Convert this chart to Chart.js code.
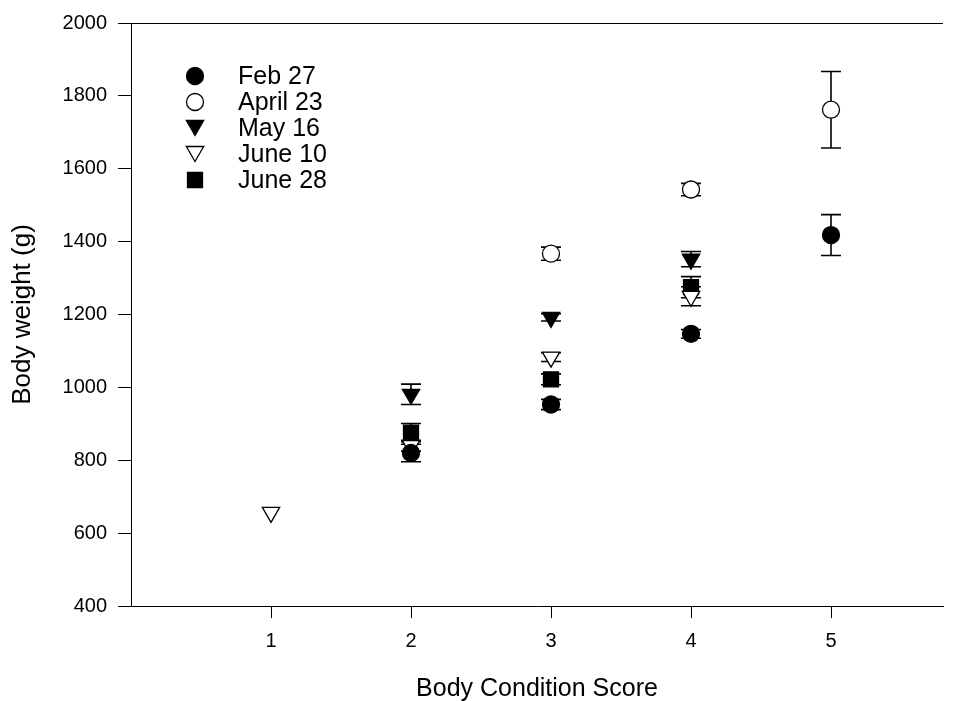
<!DOCTYPE html>
<html><head><meta charset="utf-8">
<script src="https://cdn.jsdelivr.net/npm/chart.js@4.4.1/dist/chart.umd.min.js"></script>
<style>html,body{margin:0;padding:0;background:#fff;}#wrap{width:957px;height:701px;}</style>
</head><body><div id="wrap"><canvas id="c" width="957" height="701"></canvas></div>
<script>
// ---- data ----
const categories = [1, 2, 3, 4, 5];
const seriesNames = ['Feb 27', 'April 23', 'May 16', 'June 10', 'June 28'];
const feb27    = [null, 820, 953, 1147, 1418];
const feb27Err = [null, 24, 14, 12, 56];
const apr23    = [null, null, 1367, 1543, 1762];
const apr23Err = [null, null, 18, 17, 105];
const may16    = [null, 981, 1192, 1352, null];
const may16Err = [null, 28, 10, 21, null];
const jun10    = [657, 840, 1083, 1250, null];
const jun10Err = [null, 15, 12, 26, null];
const jun28    = [null, 876, 1022, 1275, null];
const jun28Err = [null, 25, 15, 29, null];
const yTicks = [400, 600, 800, 1000, 1200, 1400, 1600, 1800, 2000];
const xTitle = 'Body Condition Score';
const yTitle = 'Body weight (g)';

const FONT = "'Liberation Sans', Arial, Helvetica, sans-serif";
const styles = [
  {pointStyle: 'circle', radius: 8.5, rotation: 0, fill: '#000'},
  {pointStyle: 'circle', radius: 8.5, rotation: 0, fill: '#fff'},
  {pointStyle: 'triangle', radius: 10, rotation: 180, fill: '#000'},
  {pointStyle: 'triangle', radius: 10, rotation: 180, fill: '#fff'},
  {pointStyle: 'rect', radius: 10.6, rotation: 0, fill: '#000'}
];
const values = [feb27, apr23, may16, jun10, jun28];
const errors = [feb27Err, apr23Err, may16Err, jun10Err, jun28Err];

function toPoints(vals, errs) {
  const out = [];
  categories.forEach((c, i) => {
    if (vals[i] !== null && vals[i] !== undefined) out.push({x: c, y: vals[i], err: errs[i] || 0});
  });
  return out;
}

const datasets = seriesNames.map((name, k) => ({
  label: name,
  data: toPoints(values[k], errors[k]),
  showLine: false,
  pointStyle: styles[k].pointStyle,
  pointRadius: styles[k].radius,
  pointHoverRadius: styles[k].radius,
  pointRotation: styles[k].rotation,
  backgroundColor: styles[k].fill,
  borderColor: '#000',
  borderWidth: 1.3
}));

const errorBars = {
  id: 'errorBars',
  beforeDatasetsDraw(chart) {
    const ctx = chart.ctx, xs = chart.scales.x, ys = chart.scales.y;
    ctx.save();
    ctx.strokeStyle = '#000';
    ctx.lineWidth = 1.6;
    chart.data.datasets.forEach(ds => {
      ds.data.forEach(p => {
        if (!p.err) return;
        const px = xs.getPixelForValue(p.x);
        const y1 = ys.getPixelForValue(p.y + p.err);
        const y2 = ys.getPixelForValue(p.y - p.err);
        ctx.beginPath();
        ctx.moveTo(px, y1); ctx.lineTo(px, y2);
        ctx.moveTo(px - 10, y1); ctx.lineTo(px + 10, y1);
        ctx.moveTo(px - 10, y2); ctx.lineTo(px + 10, y2);
        ctx.stroke();
      });
    });
    ctx.restore();
  }
};

function drawShape(ctx, st, x, y) {
  ctx.beginPath();
  const r = st.radius;
  if (st.pointStyle === 'circle') {
    ctx.arc(x, y, r, 0, Math.PI * 2);
  } else if (st.pointStyle === 'triangle') {
    ctx.moveTo(x, y + r);
    ctx.lineTo(x - r * Math.sqrt(3) / 2, y - r / 2);
    ctx.lineTo(x + r * Math.sqrt(3) / 2, y - r / 2);
    ctx.closePath();
  } else {
    const s = r * Math.SQRT1_2;
    ctx.rect(x - s, y - s, 2 * s, 2 * s);
  }
  ctx.fillStyle = st.fill;
  ctx.fill();
  ctx.strokeStyle = '#000';
  ctx.lineWidth = 1.3;
  ctx.stroke();
}

const frameAndLegend = {
  id: 'frameAndLegend',
  afterDraw(chart) {
    const ctx = chart.ctx, a = chart.chartArea;
    ctx.save();
    ctx.strokeStyle = '#000';
    ctx.lineWidth = 1;
    ctx.beginPath();
    ctx.moveTo(a.left, a.top + 0.5);
    ctx.lineTo(a.right, a.top + 0.5);
    ctx.stroke();
    ctx.font = '25px ' + FONT;
    ctx.textBaseline = 'middle';
    ctx.textAlign = 'left';
    seriesNames.forEach((name, k) => {
      const yy = a.top + 53 + k * 26;
      const st = styles[k];
      const dy = st.pointStyle === 'triangle' ? -2.5 : 0;
      drawShape(ctx, st, a.left + 64, yy + dy);
      ctx.fillStyle = '#000';
      ctx.fillText(name, a.left + 107, yy + 1);
    });
    ctx.restore();
  }
};

Chart.defaults.font.family = FONT;
Chart.defaults.color = '#000';

new Chart(document.getElementById('c'), {
  type: 'scatter',
  data: {datasets},
  options: {
    responsive: false,
    animation: false,
    devicePixelRatio: 1,
    layout: {padding: {top: 17, right: 14, left: 0, bottom: 0}},
    plugins: {legend: {display: false}, tooltip: {enabled: false}},
    scales: {
      x: {
        type: 'linear', min: 0, max: 5.8,
        afterBuildTicks: s => { s.ticks = categories.map(v => ({value: v})); },
        afterFit: s => { s.height = 95; },
        border: {display: true, color: '#000', width: 1},
        grid: {drawOnChartArea: false, drawTicks: true, tickLength: 12, color: '#000', tickWidth: 1},
        ticks: {font: {size: 20}, padding: 11, color: '#000', maxRotation: 0, callback: v => String(v)},
        title: {display: true, text: xTitle, font: {size: 25, lineHeight: 1}, padding: {top: 0, bottom: -1}, color: '#000'}
      },
      y: {
        type: 'linear', min: 400, max: 2000,
        afterBuildTicks: s => { s.ticks = yTicks.map(v => ({value: v})); },
        afterFit: s => { s.width = 131; },
        border: {display: true, color: '#000', width: 1},
        grid: {drawOnChartArea: false, drawTicks: true, tickLength: 13, color: '#000', tickWidth: 1},
        ticks: {font: {size: 20}, padding: 11, color: '#000', callback: v => String(v)},
        title: {display: true, text: yTitle, font: {size: 26, lineHeight: 1}, padding: {top: 10, bottom: 0}, color: '#000'}
      }
    }
  },
  plugins: [errorBars, frameAndLegend]
});
</script>
</body></html>
